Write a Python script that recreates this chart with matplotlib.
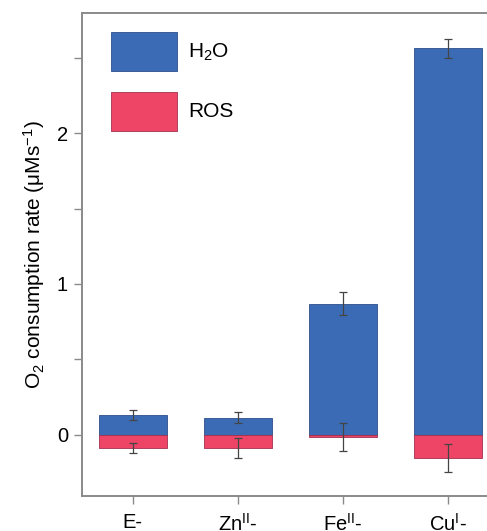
import numpy as np
import matplotlib.pyplot as plt
from matplotlib.ticker import MultipleLocator

plt.rcParams['font.family'] = ['Liberation Sans', 'DejaVu Sans']
plt.rcParams['mathtext.fontset'] = 'custom'
plt.rcParams['mathtext.rm'] = 'Liberation Sans'
plt.rcParams['mathtext.it'] = 'Liberation Sans'

# values (uM/s)
categories = [r'E-', r'Zn$^{\mathregular{II}}$-', r'Fe$^{\mathregular{II}}$-', r'Cu$^{\mathregular{I}}$-']
h2o = [0.134, 0.115, 0.870, 2.56]
h2o_err = [0.033, 0.035, 0.075, 0.066]
ros = [-0.086, -0.086, -0.015, -0.150]
ros_err = [0.032, 0.068, 0.092, 0.093]

blue = '#3C6BB5'
red = '#EE4466'
gray = '#8a8a8a'

fig = plt.figure(figsize=(4.87, 5.31), dpi=100)
ax = fig.add_axes([0.168, 0.066, 0.832, 0.9095])

x = np.arange(len(categories))
w = 0.65
ax.bar(x, h2o, w, color=blue, edgecolor='#2d4f8a', linewidth=0.6, label=r'H$_2$O', zorder=2)
ax.bar(x, ros, w, color=red, edgecolor='#a03050', linewidth=0.6, label='ROS', zorder=2)
ax.errorbar(x, h2o, yerr=h2o_err, fmt='none', ecolor='#444444', elinewidth=0.9, capsize=3.2, capthick=0.9, zorder=3)
ax.errorbar(x, ros, yerr=ros_err, fmt='none', ecolor='#444444', elinewidth=0.9, capsize=3.2, capthick=0.9, zorder=3)

ax.set_xlim(-0.486, 3.371)
ax.set_ylim(-0.404, 2.795)
ax.set_xticks(x)
ax.set_xticklabels(categories, fontsize=14.5)
ax.set_yticks([0, 1, 2])
ax.yaxis.set_minor_locator(MultipleLocator(0.5))
ax.tick_params(axis='y', which='both', length=6, width=1, color=gray, labelsize=14.5, pad=4)
ax.tick_params(axis='x', length=6, width=1, color=gray, pad=6)
ax.set_ylabel(r'O$_2$ consumption rate ($\mathregular{\mu Ms^{-1}}$)', fontsize=15, labelpad=7)

for s in ['left', 'bottom', 'top']:
    ax.spines[s].set_color(gray)
    ax.spines[s].set_linewidth(1.4)
ax.spines['right'].set_visible(False)

ax.legend(loc='upper left', bbox_to_anchor=(0.025, 1.0), frameon=False, fontsize=15,
          handlelength=3.2, handleheight=2.5, labelspacing=1.0, handletextpad=0.5)

fig.savefig('out.png', dpi=100)
